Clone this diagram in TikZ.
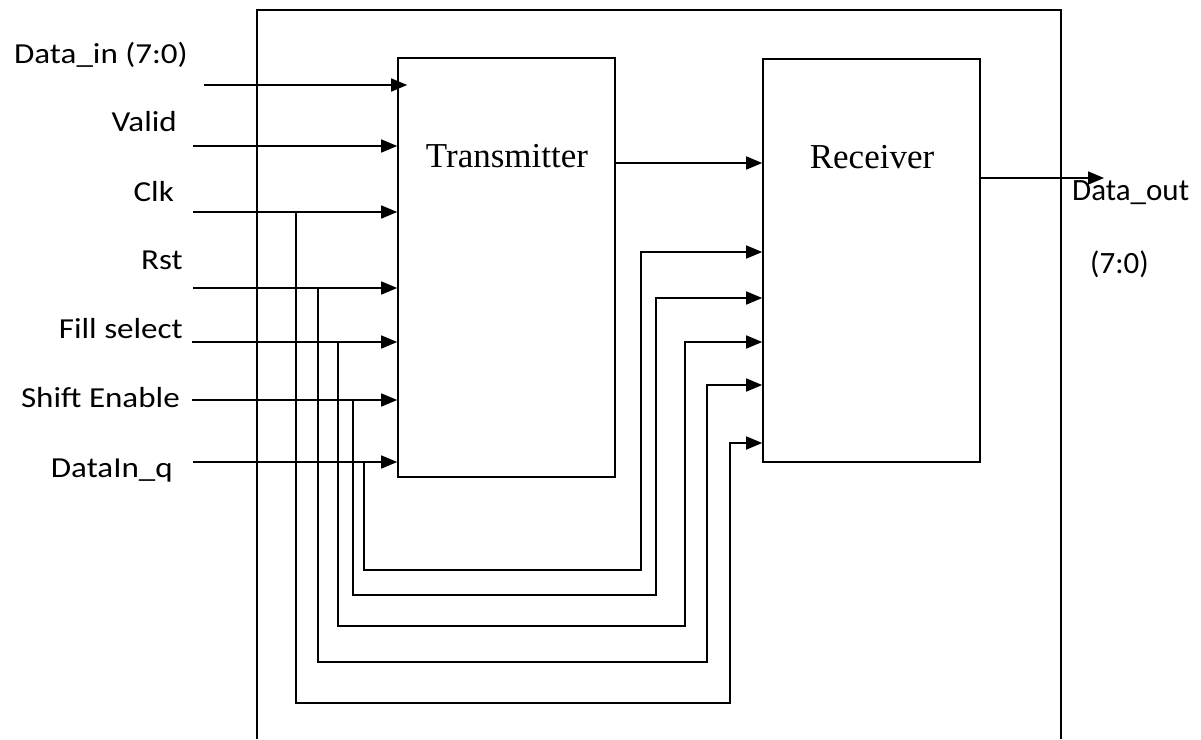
\documentclass[tikz,border=0pt]{standalone}
\usepackage{fontspec}
\setmainfont{Liberation Serif}
\newfontfamily\lblfont{Carlito}
\newfontfamily\widefont[FakeStretch=1.14]{Carlito}
\usetikzlibrary{arrows.meta}

\tikzset{
  blk/.style={draw, line width=1.6pt, rectangle, inner sep=0pt, minimum width=217pt},
  wire/.style={line width=1.6pt},
  sig/.style={wire, -{Triangle[length=16pt,width=13pt]}},
  lbl/.style={font=\lblfont\fontsize{31}{37}\selectfont, inner sep=0pt},
  inlbl/.style={font=\widefont\fontsize{29}{35}\selectfont, inner sep=0pt, anchor=base east},
  ttl/.style={font=\fontsize{35}{42}\selectfont, inner sep=0pt}
}

\begin{document}
\begin{tikzpicture}[x=1pt,y=-1pt]
\useasboundingbox (0,0) rectangle (1201,739);
% outer frame, cut off at the bottom
\draw[wire] (257,739) |- (1061,10) -- (1061,739);
% blocks
\node[blk, minimum height=419pt] (tx) at (506.5,267.5) {};
\node[blk, minimum height=403pt] (rx) at (871.5,260.5) {};
\node[ttl, anchor=base] (txname) at (507,167) {Transmitter};
\node[ttl, anchor=base] (rxname) at (872,168) {Receiver};

% input labels
\node[inlbl] (ldin) at (188,63) {Data\_in (7:0)};
\node[inlbl] (lvalid) at (177,131) {Valid};
\node[inlbl] (lclk) at (174,201) {Clk};
\node[inlbl] (lrst) at (183,269) {Rst};
\node[inlbl] (lfill) at (183,338) {Fill select};
\node[inlbl] (lshift) at (180,407) {Shift Enable};
\node[inlbl] (lq) at (173,477) {DataIn\_q};

% input wires
\coordinate (sdin) at (204,85);
\coordinate (svalid) at (193,146);
\coordinate (sclk) at (193,212);
\coordinate (srst) at (193,288);
\coordinate (sfill) at (192,342);
\coordinate (sshift) at (192,400);
\coordinate (sq) at (193,462);
\draw[sig] (sdin) -- ([xshift=10pt]sdin -| tx.west);
\draw[sig] (svalid) -- (svalid -| tx.west);
\draw[sig] (sclk) -- (sclk -| tx.west);
\draw[sig] (srst) -- (srst -| tx.west);
\draw[sig] (sfill) -- (sfill -| tx.west);
\draw[sig] (sshift) -- (sshift -| tx.west);
\draw[sig] (sq) -- (sq -| tx.west);

% taps round the transmitter into the receiver
\draw[sig] (sclk -| 296,0) |- (730,703) |- (rx.west |- 0,443);
\draw[sig] (srst -| 318,0) |- (707,662) |- (rx.west |- 0,385);
\draw[sig] (sfill -| 338,0) |- (685,626) |- (rx.west |- 0,342);
\draw[sig] (sshift -| 353,0) |- (656,595) |- (rx.west |- 0,298);
\draw[sig] (sq -| 364,0) |- (641,570) |- (rx.west |- 0,252);

% transmitter to receiver
\draw[sig] (tx.east |- 0,163) -- (rx.west |- 0,163);

% output
\coordinate (dout) at (1104,178);
\draw[sig] (rx.east |- dout) -- (dout);
\node[lbl, anchor=base west] (ldout) at (1072,200) {Data\_out};
\node[lbl, anchor=base west] (ldout2) at (1090,273) {(7:0)};
\end{tikzpicture}
\end{document}
